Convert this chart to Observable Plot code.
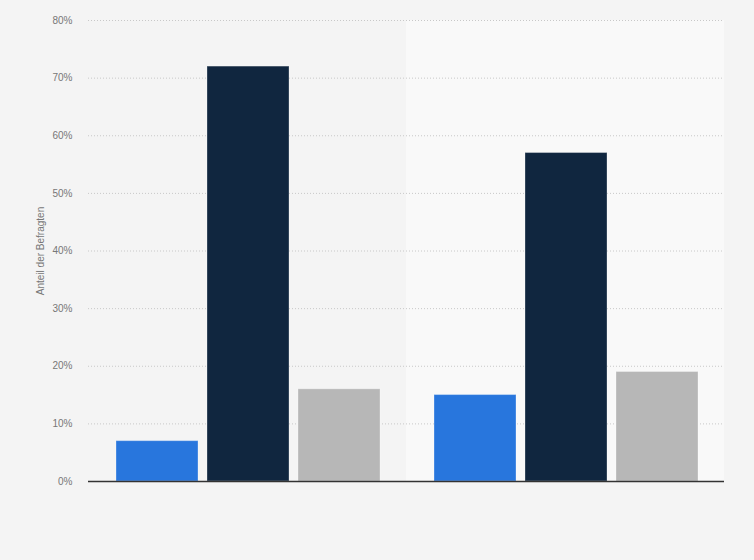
<!DOCTYPE html>
<html>
<head>
<meta charset="utf-8">
<script src="https://cdn.jsdelivr.net/npm/d3@7"></script>
<script src="https://cdn.jsdelivr.net/npm/@observablehq/plot@0.6"></script>
<style>
  html, body { margin: 0; padding: 0; background: #f4f4f4; }
  #chart { width: 754px; height: 560px; }
</style>
</head>
<body>
<div id="chart"></div>
<script>
const groups = ["Gruppe 1", "Gruppe 2"];
const series = ["Antwort A", "Antwort B", "Antwort C"];
const group1Values = [7, 72, 16];
const group2Values = [15, 57, 19];
const yTicks = [0, 10, 20, 30, 40, 50, 60, 70, 80];
const seriesColors = ["#2876dd", "#10263f", "#b7b7b7"];

const data = [];
[group1Values, group2Values].forEach((vals, gi) => {
  vals.forEach((v, si) => data.push({group: groups[gi], series: series[si], value: v}));
});
const bandData = [{group: groups[1]}];

const chart = Plot.plot({
  width: 754,
  height: 560,
  marginLeft: 88,
  marginRight: 30,
  marginTop: 20,
  marginBottom: 79,
  style: {background: "#f4f4f4", fontFamily: "Liberation Sans, Arial, sans-serif", fontSize: "10px", color: "#777"},
  fx: {domain: groups, padding: 0, axis: null},
  x: {domain: series, paddingInner: 0.099, paddingOuter: 0.2967, axis: null},
  y: {domain: [0, 80]},
  color: {domain: series, range: seriesColors},
  marks: [
    Plot.rectY(bandData, {fx: "group", y1: 0, y2: 80, fill: "#f9f9f9"}),
    Plot.gridY(yTicks, {stroke: "#c8c8c8", strokeOpacity: 1, strokeDasharray: "1,2", strokeWidth: 1}),
    Plot.axisY({ticks: yTicks, tickFormat: d => d + "%", tickSize: 0, tickPadding: 16,
      label: "Anteil der Befragten", labelAnchor: "center", labelArrow: "none", labelOffset: 52, fill: "#777"}),
    Plot.barY(data, {fx: "group", x: "series", y: "value", fill: "series",
      stroke: "white", strokeOpacity: 0.3, strokeWidth: 1, dx: 1}),
    Plot.ruleY([0], {stroke: "#333", strokeWidth: 1.5})
  ]
});
document.getElementById("chart").appendChild(chart);
</script>
</body>
</html>
